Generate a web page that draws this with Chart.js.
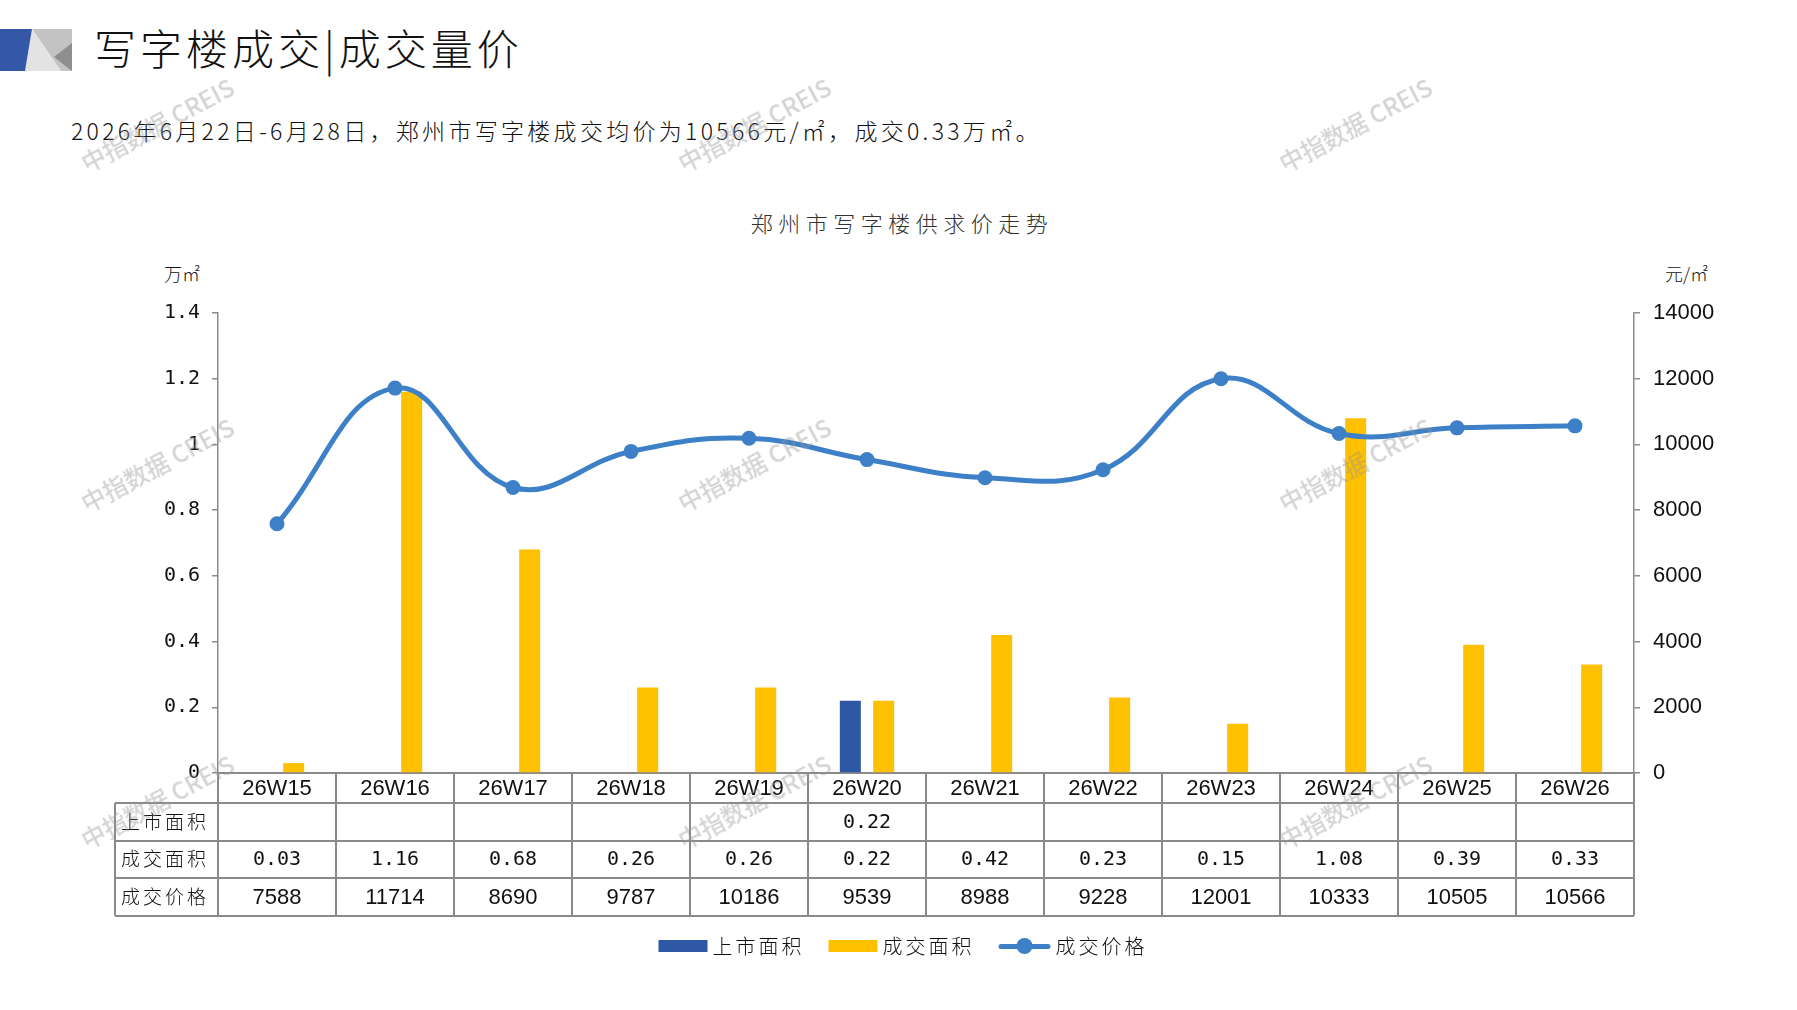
<!DOCTYPE html>
<html>
<head>
<meta charset="utf-8">
<script src="https://cdn.jsdelivr.net/npm/chart.js@4.4.1/dist/chart.umd.min.js"></script>
<style>
  html, body { margin: 0; padding: 0; background: #fff; }
  #page { position: relative; width: 1797px; height: 1010px; overflow: hidden;
          font-family: "Noto Sans CJK SC", sans-serif; color: #111; }
  #chartWrap { position: absolute; left: 0; top: 0; width: 1797px; height: 1010px; }
  .abs { position: absolute; white-space: nowrap; }
  #title { left: 94px; top: 22px; font-size: 42px; line-height: 50px; font-weight: 300; letter-spacing: 4px; }
  #subtitle { left: 71px; top: 114px; font-size: 23px; line-height: 32px; font-weight: 300; letter-spacing: 3.3px; }
  #chartTitle { left: 902px; top: 208px; transform: translateX(-50%); font-size: 22px; line-height: 28px;
                font-weight: 300; letter-spacing: 5.5px; color: #333; }
  .unit { top: 261px; font-size: 18px; line-height: 24px; font-weight: 300; }
  #legend { left: 903px; top: 932px; transform: translateX(-50%); display: flex; align-items: center;
            font-size: 20px; line-height: 28px; font-weight: 300; letter-spacing: 3px; }
  .item { display: flex; align-items: center; margin: 0 12px; }
  .swatch { width: 49px; height: 12px; margin-right: 5px; }
  .lineSw { position: relative; width: 52px; height: 16px; margin-right: 5px; }
  .lineSw::before { content: ""; position: absolute; left: 0; right: 0; top: 6px; height: 5px; background: #3D80C8; border-radius: 3px; }
  .lineSw::after { content: ""; position: absolute; left: 18px; top: 0; width: 16px; height: 16px; background: #3D80C8; border-radius: 50%; }
  .wm { font-size: 24px; color: rgba(150,150,150,0.42); transform: translate(-50%,-50%) rotate(-28deg);
        font-family: "Noto Sans CJK SC", sans-serif; font-weight: 500; pointer-events: none; }
</style>
</head>
<body>
<div id="page">
  <svg class="abs" style="left:0;top:29px" width="72" height="42" viewBox="0 0 72 42">
    <polygon points="32,0 72,0 72,42 61,42" fill="#c3c3c3"/>
    <polygon points="25,42 32,0 61,42" fill="#e3e3e3"/>
    <polygon points="72,14 72,42 54,28" fill="#8e8e8e"/>
    <polygon points="0,0 32,0 25,42 0,42" fill="#3457a8"/>
  </svg>
  <div id="title" class="abs">写字楼成交|成交量价</div>
  <div id="subtitle" class="abs">2026年6月22日-6月28日，郑州市写字楼成交均价为10566元/㎡，成交0.33万㎡。</div>
  <div id="chartTitle" class="abs">郑州市写字楼供求价走势</div>
  <div class="abs unit" style="left:164px">万㎡</div>
  <div class="abs unit" style="left:1665px">元/㎡</div>

  <div id="chartWrap"><canvas id="chart"></canvas></div>

  <div id="legend" class="abs">
    <div class="item"><div class="swatch" style="background:#2E58A6"></div>上市面积</div>
    <div class="item"><div class="swatch" style="background:#FFC000"></div>成交面积</div>
    <div class="item"><div class="lineSw"></div>成交价格</div>
  </div>

  <div class="abs wm" style="left:157px;top:124px">中指数据 CREIS</div>
  <div class="abs wm" style="left:754px;top:124px">中指数据 CREIS</div>
  <div class="abs wm" style="left:1355px;top:124px">中指数据 CREIS</div>
  <div class="abs wm" style="left:157px;top:464px">中指数据 CREIS</div>
  <div class="abs wm" style="left:754px;top:464px">中指数据 CREIS</div>
  <div class="abs wm" style="left:1355px;top:464px">中指数据 CREIS</div>
  <div class="abs wm" style="left:157px;top:801px">中指数据 CREIS</div>
  <div class="abs wm" style="left:754px;top:801px">中指数据 CREIS</div>
  <div class="abs wm" style="left:1355px;top:801px">中指数据 CREIS</div>
</div>

<script>
const weeks = ['26W15', '26W16', '26W17', '26W18', '26W19', '26W20',
               '26W21', '26W22', '26W23', '26W24', '26W25', '26W26'];
const listedArea = [null, null, null, null, null, 0.22, null, null, null, null, null, null];
const soldArea = [0.03, 1.16, 0.68, 0.26, 0.26, 0.22, 0.42, 0.23, 0.15, 1.08, 0.39, 0.33];
const soldPrice = [7588, 11714, 8690, 9787, 10186, 9539, 8988, 9228, 12001, 10333, 10505, 10566];
const rowLabels = ['上市面积', '成交面积', '成交价格'];

// axis ranges
const areaMax = 1.4, areaStep = 0.2;
const priceMax = 14000, priceStep = 2000;

const GRAY = '#8a8a8a';
const CJK = '"Noto Sans CJK SC", sans-serif';
const NARROW = '"Liberation Sans Narrow", "Liberation Sans", Arial, sans-serif';
const MONO = '"DejaVu Sans Mono", monospace';

// draws the data table under the x axis
const tablePlugin = {
  id: 'dataTable',
  afterDraw(chart) {
    const { ctx, chartArea, scales } = chart;
    const x = scales.x;
    const left = chartArea.left, right = chartArea.right;
    const headTop = chartArea.bottom, headBottom = x.bottom;
    const rowH = 37.5, labelLeft = 115;
    const half = (right - left) / weeks.length / 2;
    const tableBottom = headBottom + rowH * rowLabels.length;

    ctx.save();
    ctx.strokeStyle = GRAY;
    ctx.lineWidth = 2;
    ctx.beginPath();
    // horizontal lines
    for (let r = 0; r <= rowLabels.length; r++) {
      const y = Math.round(headBottom + r * rowH);
      ctx.moveTo(labelLeft, y); ctx.lineTo(right, y);
    }
    // vertical lines
    ctx.moveTo(labelLeft, headBottom); ctx.lineTo(labelLeft, tableBottom);
    for (let i = 0; i <= weeks.length; i++) {
      const px = i < weeks.length ? x.getPixelForValue(i) - half : x.getPixelForValue(weeks.length - 1) + half;
      ctx.moveTo(px, headTop); ctx.lineTo(px, tableBottom);
    }
    ctx.stroke();

    ctx.fillStyle = '#111';
    ctx.textBaseline = 'middle';
    const rows = [
      listedArea.map(v => v == null ? '' : v.toFixed(2)),
      soldArea.map(v => v.toFixed(2)),
      soldPrice.map(v => String(v))
    ];
    rowLabels.forEach((lab, r) => {
      const cy = headBottom + r * rowH + rowH / 2;
      ctx.textAlign = 'left';
      ctx.font = '300 19px ' + CJK;
      ctx.letterSpacing = '3px';
      ctx.fillText(lab, labelLeft + 6, cy);
      ctx.letterSpacing = '0px';
      ctx.textAlign = 'center';
      ctx.font = r === 2 ? '22px ' + NARROW : '20px ' + MONO;
      rows[r].forEach((t, i) => {
        if (t) ctx.fillText(t, x.getPixelForValue(i), cy + 1);
      });
    });
    ctx.restore();
  }
};

new Chart(document.getElementById('chart'), {
  data: {
    labels: weeks,
    datasets: [
      {
        type: 'line',
        label: '成交价格',
        data: soldPrice,
        yAxisID: 'y1',
        borderColor: '#3D80C8',
        backgroundColor: '#3D80C8',
        borderWidth: 5,
        pointRadius: 7.5,
        pointBorderWidth: 0,
        tension: 0.42,
        order: 0
      },
      {
        type: 'bar',
        label: '上市面积',
        data: listedArea,
        yAxisID: 'y',
        backgroundColor: '#2E58A6',
        categoryPercentage: 0.565,
        barPercentage: 0.63,
        order: 1
      },
      {
        type: 'bar',
        label: '成交面积',
        data: soldArea,
        yAxisID: 'y',
        backgroundColor: '#FFC000',
        categoryPercentage: 0.565,
        barPercentage: 0.63,
        order: 1
      }
    ]
  },
  options: {
    responsive: true,
    maintainAspectRatio: false,
    animation: false,
    layout: { padding: { top: 313, bottom: 207, left: 0, right: 0 } },
    plugins: { legend: { display: false }, tooltip: { enabled: false } },
    scales: {
      x: {
        grid: { display: false, drawTicks: false },
        border: { color: GRAY, width: 2 },
        ticks: { color: '#111', font: { family: NARROW, size: 22 }, padding: 3, maxRotation: 0 },
        afterFit(s) { s.height = 30; }
      },
      y: {
        position: 'left',
        min: 0, max: areaMax,
        ticks: {
          stepSize: areaStep, color: '#111', padding: 12,
          font: { family: MONO, size: 20 },
          callback: v => String(Number(v.toFixed(1)))
        },
        grid: { drawOnChartArea: false, drawTicks: true, tickLength: 6, color: GRAY, lineWidth: 1.5 },
        border: { color: GRAY, width: 1.5 },
        afterFit(s) { s.width = 218; }
      },
      y1: {
        position: 'right',
        min: 0, max: priceMax,
        ticks: {
          stepSize: priceStep, color: '#111', padding: 13,
          font: { family: NARROW, size: 22 },
          callback: v => String(v)
        },
        grid: { drawOnChartArea: false, drawTicks: true, tickLength: 6, color: GRAY, lineWidth: 1.5 },
        border: { color: GRAY, width: 1.5 },
        afterFit(s) { s.width = 163; }
      }
    }
  },
  plugins: [tablePlugin]
});
</script>
</body>
</html>
